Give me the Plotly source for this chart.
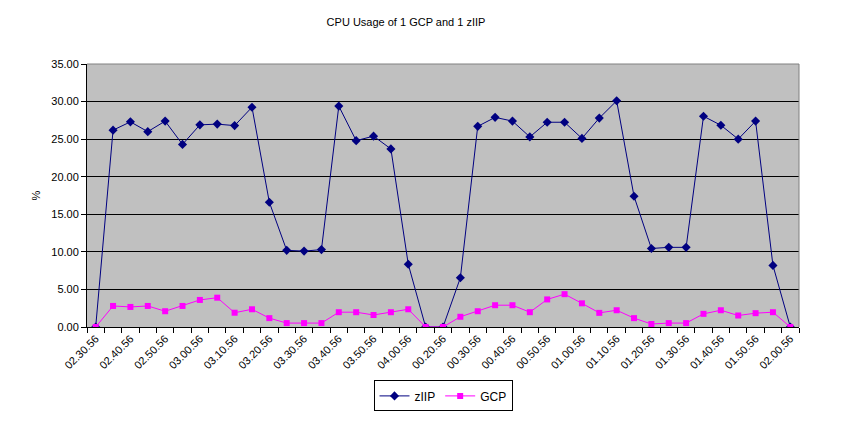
import plotly.graph_objects as go

# time stamps, one sample every 5 minutes (two runs)
times = ["02.30.56", "02.35.56", "02.40.56", "02.45.56", "02.50.56", "02.55.56",
         "03.00.56", "03.05.56", "03.10.56", "03.15.56", "03.20.56", "03.25.56",
         "03.30.56", "03.35.56", "03.40.56", "03.45.56", "03.50.56", "03.55.56",
         "04.00.56", "04.05.56",
         "00.20.56", "00.25.56", "00.30.56", "00.35.56", "00.40.56", "00.45.56",
         "00.50.56", "00.55.56", "01.00.56", "01.05.56", "01.10.56", "01.15.56",
         "01.20.56", "01.25.56", "01.30.56", "01.35.56", "01.40.56", "01.45.56",
         "01.50.56", "01.55.56", "02.00.56"]

ziip = [0.0, 26.2, 27.3, 26.0, 27.4, 24.3, 26.9, 27.0, 26.8, 29.25, 16.6, 10.2,
        10.1, 10.3, 29.4, 24.8, 25.4, 23.7, 8.35, 0.0,
        0.0, 6.55, 26.7, 27.9, 27.4, 25.3, 27.25, 27.25, 25.1, 27.8, 30.1, 17.4,
        10.45, 10.6, 10.6, 28.05, 26.85, 25.0, 27.4, 8.2, 0.0]

gcp = [0.0, 2.8, 2.67, 2.8, 2.1, 2.8, 3.6, 3.9, 1.9, 2.36, 1.18, 0.52,
       0.52, 0.52, 1.97, 1.97, 1.6, 1.97, 2.36, 0.0,
       0.0, 1.36, 2.1, 2.9, 2.9, 1.97, 3.67, 4.37, 3.15, 1.88, 2.23, 1.18,
       0.4, 0.52, 0.52, 1.75, 2.23, 1.53, 1.84, 1.97, 0.0]

idx = list(range(len(times)))
font = "Liberation Sans, Arial, sans-serif"

fig = go.Figure()
fig.add_trace(go.Scatter(
    x=idx, y=ziip, name="zIIP", mode="lines+markers",
    line=dict(color="#000080", width=1),
    marker=dict(symbol="diamond", size=7, color="#000080")
))
fig.add_trace(go.Scatter(
    x=idx, y=gcp, name="GCP", mode="lines+markers",
    line=dict(color="#FF00FF", width=1),
    marker=dict(symbol="square", size=6, color="#FF00FF")
))

fig.update_layout(
    width=866, height=423,
    margin=dict(l=87, r=67, t=64, b=92),
    paper_bgcolor="white",
    plot_bgcolor="#C0C0C0",
    font=dict(family=font, size=11, color="black"),
    title=dict(text="CPU Usage of 1 GCP and 1 zIIP", x=406 / 866, xref="container",
               xanchor="center", y=1 - 22 / 423, yref="container", yanchor="middle",
               font=dict(size=11)),
    legend=dict(orientation="h", x=0.5, xanchor="center", y=-0.262, yanchor="middle",
                bordercolor="black", borderwidth=1, bgcolor="white",
                font=dict(size=12), itemwidth=30, tracegroupgap=0),
    showlegend=True,
)

fig.update_xaxes(
    range=[-0.5, len(times) - 0.5],
    tickvals=idx[::2], ticktext=times[::2],
    tickangle=-45, ticks="", showgrid=False, zeroline=False,
    showline=True, linecolor="black", linewidth=1,
    tickfont=dict(size=11),
    minor=dict(tick0=-0.5, dtick=1, ticks="outside", ticklen=5,
               tickcolor="black", showgrid=False),
)
fig.update_yaxes(
    range=[0, 35], dtick=5, tickformat=".2f",
    ticks="outside", ticklen=5, tickcolor="black",
    showgrid=True, gridcolor="black", gridwidth=1,
    zeroline=False, showline=True, linecolor="black", linewidth=1,
    tickfont=dict(size=11),
)

# grey frame on top and right of the plot area
fig.add_shape(type="line", xref="paper", yref="paper", x0=0, x1=1, y0=1, y1=1,
              line=dict(color="#808080", width=1), layer="above")
fig.add_shape(type="line", xref="paper", yref="paper", x0=1, x1=1, y0=0, y1=1,
              line=dict(color="#808080", width=1), layer="above")

fig.add_annotation(text="%", textangle=-90, xref="paper", yref="paper",
                   x=(27 - 87) / 712, y=0.5, showarrow=False,
                   font=dict(size=11))

# the page body has a default margin; drop it so the figure sits at 0,0
fig.write_html("out.html", config={"displayModeBar": False},
               post_script="document.body.style.margin='0';")
